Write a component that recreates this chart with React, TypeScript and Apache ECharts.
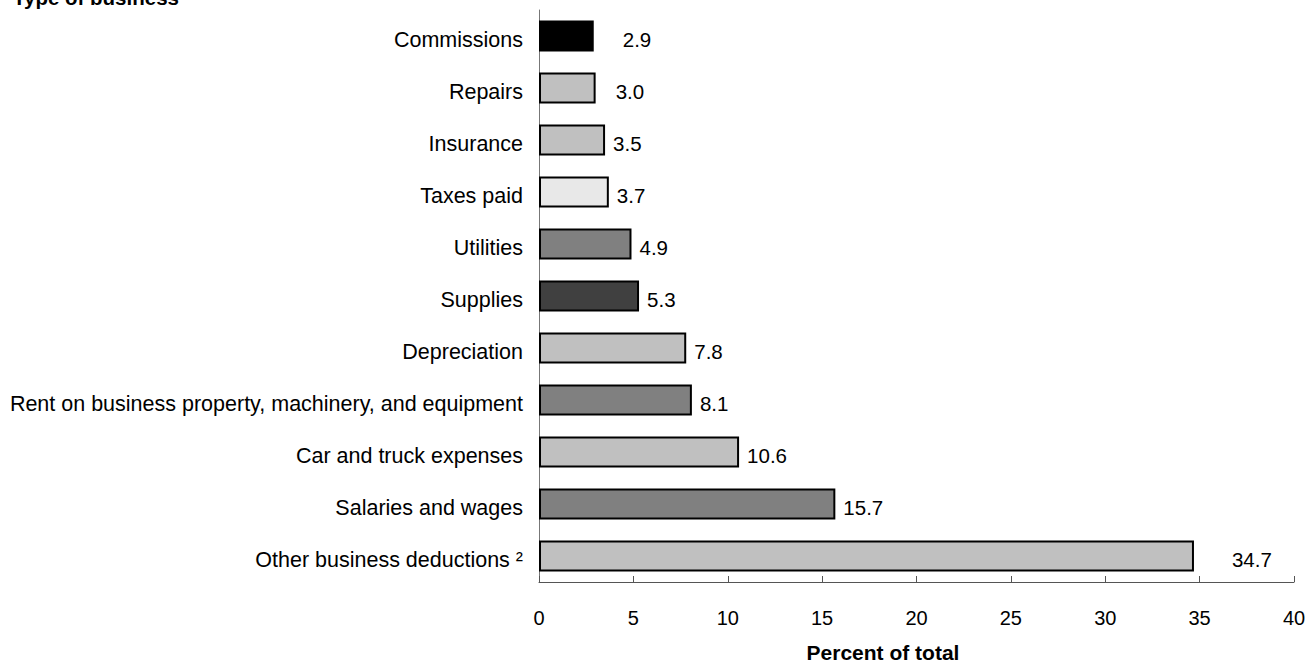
import React, { useEffect, useRef } from "react";
import * as echarts from "echarts";

const categories = [
  "Other business deductions ²",
  "Salaries and wages",
  "Car and truck expenses",
  "Rent on business property, machinery, and equipment",
  "Depreciation",
  "Supplies",
  "Utilities",
  "Taxes paid",
  "Insurance",
  "Repairs",
  "Commissions",
];
const values = [34.7, 15.7, 10.6, 8.1, 7.8, 5.3, 4.9, 3.7, 3.5, 3.0, 2.9];
const xTicks = [0, 5, 10, 15, 20, 25, 30, 35, 40];
const axisTitle = "Percent of total";
const chartTitle = "Type of business";

const barColors: Record<string, string> = {
  "Other business deductions ²": "#c0c0c0",
  "Salaries and wages": "#808080",
  "Car and truck expenses": "#c0c0c0",
  "Rent on business property, machinery, and equipment": "#808080",
  Depreciation: "#c0c0c0",
  Supplies: "#404040",
  Utilities: "#808080",
  "Taxes paid": "#e8e8e8",
  Insurance: "#c0c0c0",
  Repairs: "#c0c0c0",
  Commissions: "#000000",
};
const labelGap: Record<string, number> = {
  "Other business deductions ²": 38,
  Repairs: 20,
  Commissions: 29,
};

const FONT = "Liberation Sans, Arial, sans-serif";

export default function App() {
  const ref = useRef<HTMLDivElement>(null);
  useEffect(() => {
    if (!ref.current) return;
    const chart = echarts.init(ref.current, undefined, { renderer: "svg" });
    chart.setOption({
      animation: false,
      backgroundColor: "#ffffff",
      textStyle: { fontFamily: FONT },
      grid: { left: 539, right: 21, top: 10, bottom: 80, containLabel: false },
      graphic: [
        {
          type: "text",
          left: 13,
          top: -13,
          style: {
            text: chartTitle,
            font: `bold 20.5px ${FONT}`,
            fill: "#000",
          },
        },
        {
          type: "text",
          x: 883,
          y: 652,
          style: {
            text: axisTitle,
            font: `bold 21px ${FONT}`,
            fill: "#000",
            textAlign: "center",
            textVerticalAlign: "middle",
          },
        },
      ],
      xAxis: {
        type: "value",
        min: xTicks[0],
        max: xTicks[xTicks.length - 1],
        interval: 5,
        axisLine: { show: true, lineStyle: { color: "#555", width: 1 } },
        axisTick: { show: true, inside: true, length: 6, lineStyle: { color: "#555" } },
        axisLabel: { fontFamily: FONT, fontSize: 20, color: "#000", margin: 26 },
        splitLine: { show: false },
      },
      yAxis: {
        type: "category",
        data: categories,
        axisLine: { show: true, lineStyle: { color: "#777", width: 1 } },
        axisTick: { show: false },
        axisLabel: {
          fontFamily: FONT,
          fontSize: 21.5,
          color: "#000",
          margin: 16,
          verticalAlign: "top",
          lineHeight: 7,
        },
      },
      series: [
        {
          type: "bar",
          barWidth: 31,
          data: categories.map((c, i) => ({
            value: values[i],
            itemStyle: { color: barColors[c], borderColor: "#000", borderWidth: 2 },
            label: {
              show: true,
              position: "right",
              distance: labelGap[c] ?? 8,
              offset: [0, 3],
              formatter: values[i].toFixed(1),
              fontFamily: FONT,
              fontSize: 20.5,
              color: "#000",
            },
          })),
        },
      ],
    });
    return () => chart.dispose();
  }, []);
  return (
    <div
      ref={ref}
      style={{ position: "fixed", left: 0, top: 0, width: 1315, height: 662, background: "#fff" }}
    />
  );
}
